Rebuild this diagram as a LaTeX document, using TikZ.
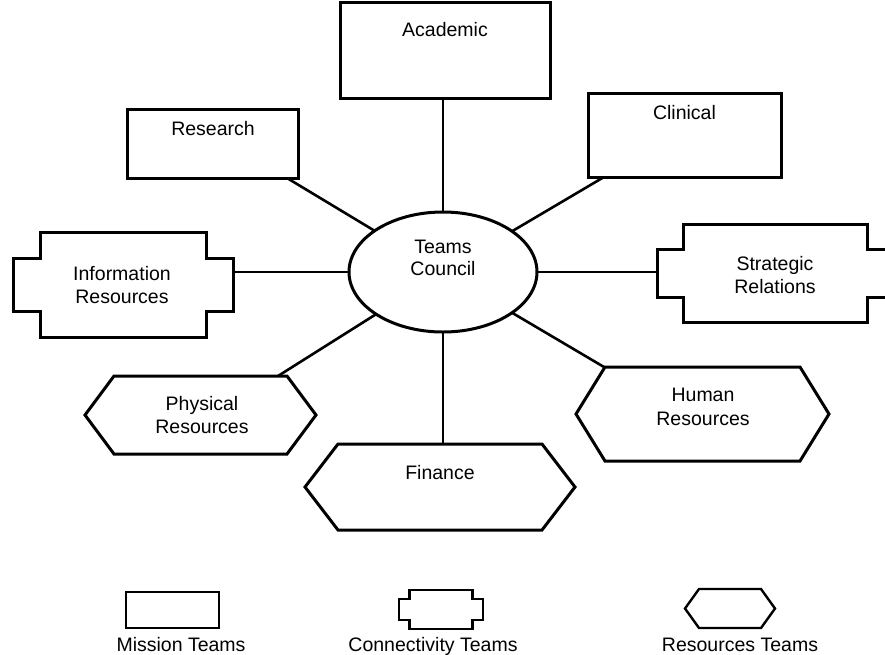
\documentclass[tikz,border=0pt]{standalone}
\usepackage{fontspec}
\setmainfont{Liberation Sans}
\usetikzlibrary{shapes.geometric}
\newcommand\connpath[4]{%
  \draw[line width=#4,line join=miter] ([xshift=#2]#1.north west) -- ([xshift=-#2]#1.north east)
   -- ([xshift=-#2,yshift=-#3]#1.north east) -- ([yshift=-#3]#1.north east)
   -- ([yshift=#3]#1.south east) -- ([xshift=-#2,yshift=#3]#1.south east)
   -- ([xshift=-#2]#1.south east) -- ([xshift=#2]#1.south west)
   -- ([xshift=#2,yshift=#3]#1.south west) -- ([yshift=#3]#1.south west)
   -- ([yshift=-#3]#1.north west) -- ([xshift=#2,yshift=-#3]#1.north west) -- cycle;}
\newcommand\hexpath[3]{%
  \draw[line width=#3,line join=miter] ([xshift=#2]#1.north west) -- ([xshift=-#2]#1.north east)
   -- (#1.east) -- ([xshift=-#2]#1.south east) -- ([xshift=#2]#1.south west)
   -- (#1.west) -- cycle;}
\begin{document}
\begin{tikzpicture}[x=1pt,y=-1pt,
  frame/.style={inner sep=0pt,outer sep=0pt},
  mission/.style={draw,line width=3pt,inner sep=0pt,outer sep=0pt},
  lbl/.style={inner sep=0pt,anchor=base,font=\fontsize{19.5}{23}\selectfont},
  link/.style={line width=2.6pt}]
\useasboundingbox (0,0) rectangle (885,654);
\clip (0,0) rectangle (885,654);

% mission teams
\node[mission,minimum width=210pt,minimum height=96pt] (academic) at (445,50) {};
\node[mission,minimum width=171pt,minimum height=69pt] (research) at (212.5,143.5) {};
\node[mission,minimum width=193pt,minimum height=84pt] (clinical) at (684.5,135) {};

% council
\node[draw,ellipse,line width=3pt,inner sep=0pt,outer sep=0pt,minimum width=188pt,minimum height=120pt] (council) at (443,272) {};

% connectivity teams
\node[frame,minimum width=220pt,minimum height=105pt] (info) at (123,284.5) {};
\connpath{info}{27pt}{26pt}{3pt}
\node[frame,minimum width=236pt,minimum height=98pt] (strat) at (775,273) {};
\connpath{strat}{26pt}{25pt}{3pt}

% resources teams
\node[frame,minimum width=231pt,minimum height=78pt] (physical) at (200.5,415) {};
\hexpath{physical}{29pt}{3pt}
\node[frame,minimum width=270pt,minimum height=86pt] (finance) at (440,487) {};
\hexpath{finance}{33pt}{3pt}
\node[frame,minimum width=253pt,minimum height=94pt] (human) at (702.5,414) {};
\hexpath{human}{29pt}{3pt}

% connectors
\draw[link] (council.north |- academic.south) -- (council.north);
\draw[link] (council.south) -- (council.south |- finance.north);
\draw[link] (council.west -| info.east) -- (council.west);
\draw[link] (council.east) -- (council.east -| strat.west);
\draw[link] ([xshift=-11pt]research.south east) -- (council);
\draw[link] ([xshift=16pt]clinical.south west) -- (council);
\draw[link] ([xshift=-38pt]physical.north east) -- (council);
\draw[link] ([xshift=28pt]human.north west) -- (council);

% labels
\node[lbl] (tacad) at (445,36) {Academic};
\node[lbl] (tres) at (213,135) {Research};
\node[lbl] (tclin) at (684.5,119) {Clinical};
\node[lbl] (tcou1) at (443,253) {Teams};
\node[lbl] (tcou2) at (443,275) {Council};
\node[lbl] (tinf1) at (122,280) {Information};
\node[lbl] (tinf2) at (122,303) {Resources};
\node[lbl] (tstr1) at (775,270) {Strategic};
\node[lbl] (tstr2) at (775,293) {Relations};
\node[lbl] (tphy1) at (202,410) {Physical};
\node[lbl] (tphy2) at (202,433) {Resources};
\node[lbl] (tfin) at (440,479) {Finance};
\node[lbl] (thum1) at (703,401) {Human};
\node[lbl] (thum2) at (703,425) {Resources};

% legend
\node[draw,line width=2.4pt,inner sep=0pt,outer sep=0pt,minimum width=93pt,minimum height=36pt] (legm) at (172.5,610) {};
\node[frame,minimum width=84pt,minimum height=39pt] (legc) at (441,609.5) {};
\connpath{legc}{10.5pt}{9pt}{2.4pt}
\node[frame,minimum width=90pt,minimum height=39pt] (legr) at (730,608.5) {};
\hexpath{legr}{14pt}{2.4pt}
\node[lbl] (tlegm) at (181,651) {Mission Teams};
\node[lbl] (tlegc) at (433,651) {Connectivity Teams};
\node[lbl] (tlegr) at (740,651) {Resources Teams};
\end{tikzpicture}
\end{document}
